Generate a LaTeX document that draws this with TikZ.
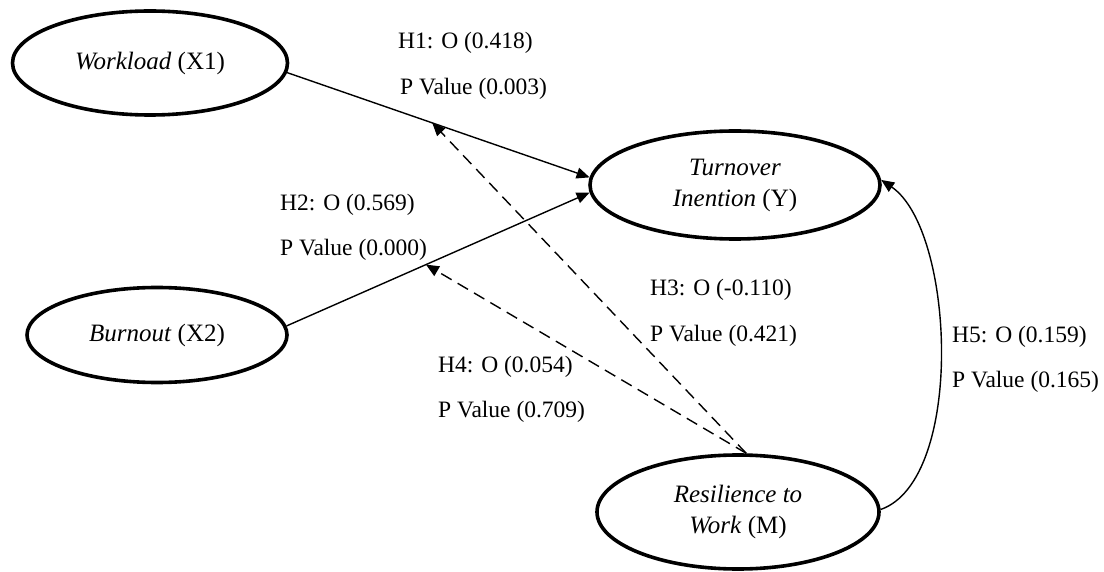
\documentclass[tikz,border=0pt]{standalone}
\usepackage{fontspec}
\setmainfont{Liberation Serif}
\usetikzlibrary{shapes.geometric,arrows.meta}
\begin{document}
\begin{tikzpicture}[x=1pt,y=-1pt,
  lat/.style={ellipse, draw, line width=3.6pt, inner sep=0pt, align=center,
    font=\fontsize{25}{31}\selectfont},
  lbl/.style={anchor=west, inner sep=0pt, font=\fontsize{23.5}{28}\selectfont},
  path/.style={line width=1.4pt, -{Triangle[length=13pt,width=11pt]}},
  dpath/.style={path, dash pattern=on 12pt off 7pt}]
\useasboundingbox (0,0) rectangle (1104,572);
\node[lat, minimum width=275pt, minimum height=104pt] (wl) at (150,63) {\textit{Workload} (X1)};
\node[lat, minimum width=260pt, minimum height=95pt] (bo) at (157,335) {\textit{Burnout} (X2)};
\node[lat, minimum width=290pt, minimum height=108pt] (ti) at (735,185) {\textit{Turnover}\\\textit{Inention} (Y)};
\node[lat, minimum width=282pt, minimum height=114pt] (rw) at (738,512) {\textit{Resilience to}\\\textit{Work} (M)};
\draw[path] (wl.-4) -- (ti.177) coordinate[pos=0.48] (m1);
\draw[path] (bo.4) -- (ti.183) coordinate[pos=0.46] (m2);
\draw[dpath] (rw.82) -- (m1);
\draw[dpath] (rw.82) -- (m2);
\draw[path] (rw.1) .. controls (965,480) and (955,230) .. (ti.2);
\node[lbl] (h1a) at (398,43) {H1: O (0.418)};
\node[lbl] (h1b) at (400,89) {P Value (0.003)};
\node[lbl] (h2a) at (280,205) {H2: O (0.569)};
\node[lbl] (h2b) at (280,250) {P Value (0.000)};
\node[lbl] (h3a) at (650,290) {H3: O (-0.110)};
\node[lbl] (h3b) at (650,336) {P Value (0.421)};
\node[lbl] (h4a) at (438,367) {H4: O (0.054)};
\node[lbl] (h4b) at (438,412) {P Value (0.709)};
\node[lbl] (h5a) at (952,337) {H5: O (0.159)};
\node[lbl] (h5b) at (952,382) {P Value (0.165)};
\end{tikzpicture}
\end{document}
